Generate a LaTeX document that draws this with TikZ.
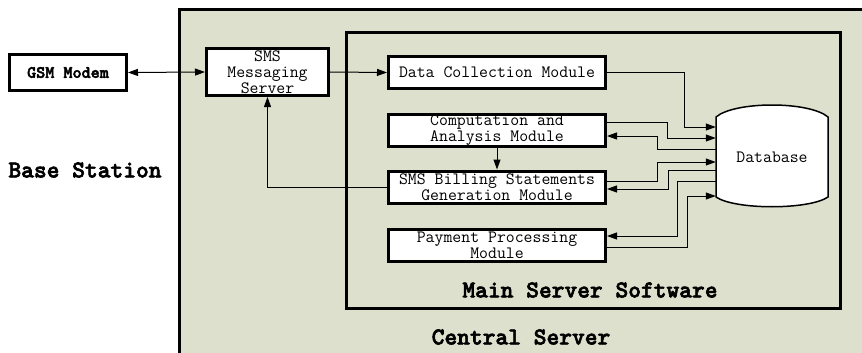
\documentclass[tikz,border=0pt]{standalone}
\usepackage{fontspec}
\newfontfamily\bmono{lmmonolt10-bold.otf}[FakeBold=2.5]
\usetikzlibrary{arrows.meta}
\definecolor{bg}{RGB}{221,224,204}
\begin{document}
\begin{tikzpicture}[x=1pt,y=-1pt,
 box/.style={draw,fill=white,line width=3pt,inner sep=0pt,align=center,font=\ttfamily\fontsize{17.3}{16}\selectfont},
 modbox/.style={box,minimum width=217pt,minimum height=32pt},
 arr/.style={-{Triangle[length=10pt,width=7pt]},line width=1pt},
 big/.style={font=\bmono\fontsize{24.3}{26}\selectfont,inner sep=0pt}]
\useasboundingbox (0,0) rectangle (862,353);
\begin{scope}
\clip (0,0) rectangle (862,353);
\draw[fill=bg,line width=3pt] (179,10) rectangle (890,390);
\end{scope}
\draw[line width=3pt] (346,33) rectangle (840,308);

% nodes
\node[box,font=\bmono\fontsize{17.3}{16}\selectfont,minimum width=117pt,minimum height=36pt] (gsm) at (68,72.5) {GSM Modem};
\node[box,minimum width=122pt,minimum height=47pt] (sms) at (267.5,72) {SMS\\Messaging\\Server};
\node[modbox] (dc) at (497,72.5) {Data Collection Module};
\node[modbox] (comp) at (497,130.5) {Computation and\\Analysis Module};
\node[modbox] (bill) at (497,187) {SMS Billing Statements\\Generation Module};
\node[modbox] (pay) at (497,245.5) {Payment Processing\\Module};

\draw[fill=white,line width=1.5pt] (716,117) .. controls (735,101) and (809,101) .. (828,117) -- (828,197) .. controls (809,210) and (735,210) .. (716,197) -- cycle;
\node[minimum width=112pt,minimum height=80pt,inner sep=0pt,font=\ttfamily\fontsize{17.3}{16}\selectfont] (db) at (772,157) {Database};

\node[big] (bs) at (85,170) {Base Station};
\node[big] (mss) at (590,290) {Main Server Software};
\node[big] (cs) at (521,337) {Central Server};

% connectors
\draw[{Triangle[length=10pt,width=7pt]}-{Triangle[length=10pt,width=7pt]},line width=1pt] (gsm.east) -- (sms.west);
\draw[arr] (sms.east) -- (dc.west);
\draw[arr] (comp.south) -- (bill.north);
\draw[arr] (bill.west) -| (sms.south);

\draw[arr] (dc.east) -| (684,127) -- (db.west |- 0,127);
\draw[arr] (comp.east |- 0,122) -| (667,138) -- (db.west |- 0,138);
\draw[arr] (db.west |- 0,149) -| (657,136) -- (comp.east |- 0,136);
\draw[arr] (bill.east |- 0,181) -| (657,162) -- (db.west |- 0,162);
\draw[arr] (db.west |- 0,170) -| (668,189) -- (bill.east |- 0,189);
\draw[arr] (db.west |- 0,181) -| (677,236) -- (pay.east |- 0,236);
\draw[arr] (pay.east |- 0,247) -| (687,196) -- (db.west |- 0,196);
\end{tikzpicture}
\end{document}
